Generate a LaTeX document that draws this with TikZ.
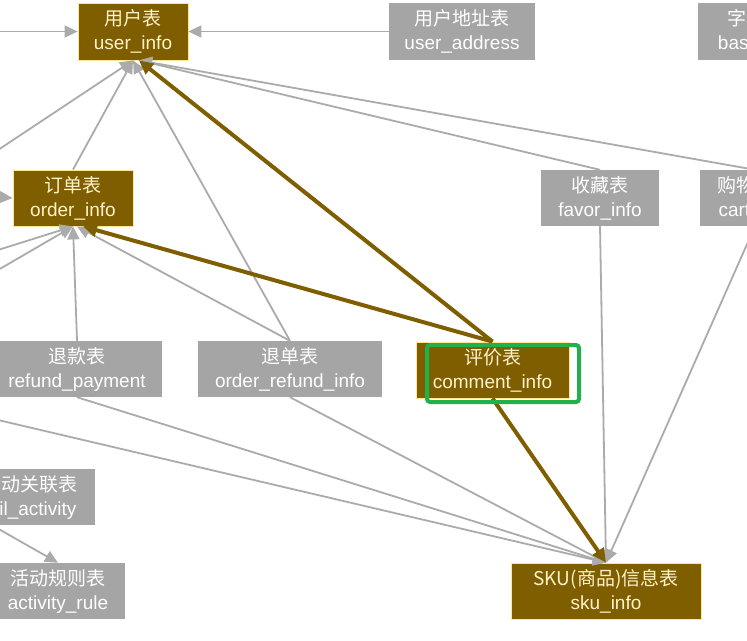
\documentclass[tikz,border=0pt]{standalone}
\usepackage{fontspec}
\setmainfont{Liberation Sans}
\newfontfamily\cjk{Noto Sans CJK SC}
\usetikzlibrary{arrows.meta}
\definecolor{brn}{HTML}{7F5E00}
\definecolor{brnedge}{HTML}{FFE699}
\definecolor{brntext}{HTML}{FFF2CC}
\definecolor{gbox}{HTML}{A5A5A5}
\definecolor{gline}{HTML}{ABABAB}
\definecolor{hlgreen}{HTML}{21B04B}
\tikzset{
  tbl/.style={rectangle, minimum height=57, inner sep=0, align=center,
    font=\fontsize{19}{24}\selectfont},
  brownbox/.style={tbl, fill=brn, draw=brnedge, line width=0.8, text=brntext},
  graybox/.style={tbl, fill=gbox, text=white},
  dep/.style={draw=gline, line width=1.8, -{Triangle[length=13,width=12]}},
  keydep/.style={draw=brn, line width=4, -{Triangle[length=14,width=13]}},
  hlbox/.style={draw=hlgreen, line width=4, rounded corners=3, inner sep=0,
    minimum width=152, minimum height=57},
}
\begin{document}
\begin{tikzpicture}[x=1pt,y=-1pt]
\useasboundingbox (0,0) rectangle (747,640);
\fill[white] (0,0) rectangle (747,640);
\clip (0,0) rectangle (747,640);

% tables
\node[brownbox, minimum width=110] (user) at (133,31.5) {{\cjk 用户表}\\user\_info};
\node[graybox, minimum width=146] (addr) at (462,31.5) {{\cjk 用户地址表}\\user\_address};
\node[graybox, minimum width=116] (base) at (756,31.5) {{\cjk 字典表}\\base\_dic};
\node[brownbox, minimum width=120, minimum height=56] (order) at (73,198) {{\cjk 订单表}\\order\_info};
\node[graybox, minimum width=118, minimum height=56] (favor) at (600,198) {{\cjk 收藏表}\\favor\_info};
\node[graybox, minimum width=110, minimum height=56] (cart) at (755,198) {{\cjk 购物车表}\\cart\_info};
\node[graybox, minimum width=170, minimum height=56] (refund) at (77,369) {{\cjk 退款表}\\refund\_payment};
\node[graybox, minimum width=184, minimum height=56] (orefund) at (290,369) {{\cjk 退单表}\\order\_refund\_info};
\node[brownbox, minimum width=153, minimum height=56] (comment) at (492.5,370) {{\cjk 评价表}\\comment\_info};
\node[graybox, minimum width=206, minimum height=56] (dact) at (-8,497) {{\cjk 订单明细活动关联表}\\order\_detail\_activity};
\node[graybox, minimum width=134, minimum height=56] (rule) at (58,591) {{\cjk 活动规则表}\\activity\_rule};
\node[brownbox, minimum width=190, minimum height=56] (sku) at (606,591) {{\cjk SKU(商品)信息表}\\sku\_info};

% off-picture ends
\coordinate (l1) at (-2,31.5);
\coordinate (l2) at (-2,150);
\coordinate (l3) at (-2,197);
\coordinate (l4) at (-2,250);
\coordinate (l5) at (-2,270);
\coordinate (l6) at (-2,420);

% gray dependencies
\draw[dep] (l1) -- (user.west);
\draw[dep] (addr.west) -- (user.east);
\draw[dep] (l2) -- (user.south);
\draw[dep] (order.north) -- (user.south);
\draw[dep] (orefund.north) -- (user.south);
\draw[dep] (favor.north) -- ([xshift=6]user.south);
\draw[dep] (cart.north) -- ([xshift=6]user.south);

\draw[dep] (l3) -- (order.west);
\draw[dep] (l4) -- (order.south);
\draw[dep] (l5) -- (order.south);
\draw[dep] (refund.north) -- (order.south);
\draw[dep] (orefund.north) -- ([xshift=4]order.south);

\draw[dep] (l6) -- (sku.north);
\draw[dep] (refund.south) -- (sku.north);
\draw[dep] (orefund.south) -- (sku.north);
\draw[dep] (favor.south) -- (sku.north);
\draw[dep] (cart.south) -- (sku.north);

\draw[dep] (dact.south) -- (rule.north);

% key dependencies of comment_info
\draw[keydep] (comment.north) -- ([xshift=6]user.south);
\draw[keydep] (comment.north) -- ([xshift=10]order.south);
\draw[keydep] (comment.south) -- (sku.north);

% highlight
\node[hlbox] (hl) at (503,373.5) {};
\end{tikzpicture}
\end{document}
